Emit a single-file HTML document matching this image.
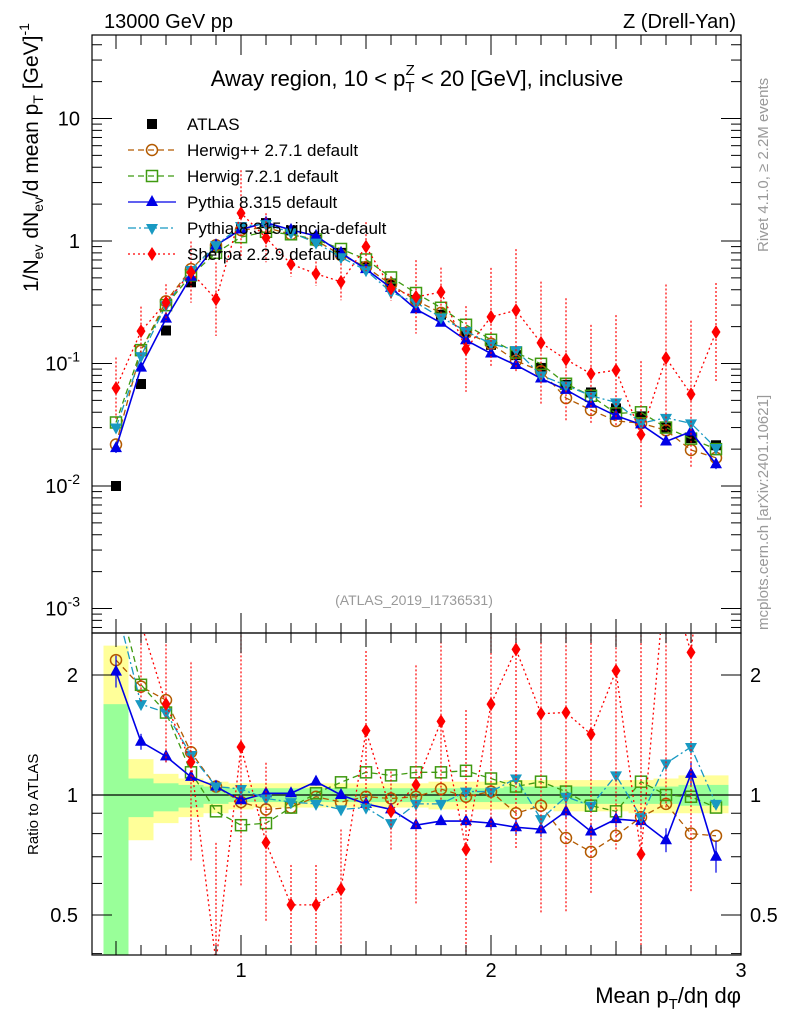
<!DOCTYPE html>
<html><head><meta charset="utf-8">
<style>
html,body{margin:0;padding:0;background:#fff;width:786px;height:1024px;overflow:hidden;}
svg{display:block;font-family:"Liberation Sans",sans-serif;}
</style></head>
<body>
<svg id="chart" width="786" height="1024" viewBox="0 0 786 1024" xmlns="http://www.w3.org/2000/svg">
<defs>
<clipPath id="clipMain"><rect x="92" y="35" width="649" height="598"/></clipPath>
<clipPath id="clipRatio"><rect x="92" y="634" width="649" height="321"/></clipPath>
</defs>
<g id="bands" clip-path="url(#clipRatio)"></g>
<g id="marksMain" clip-path="url(#clipMain)"></g>
<g id="marksRatio" clip-path="url(#clipRatio)"></g>
<g id="axes"></g>
<text x="104" y="28" font-size="20">13000 GeV pp</text>
<text x="736" y="28" font-size="20" text-anchor="end">Z (Drell-Yan)</text>
<text x="417" y="86" font-size="22" text-anchor="middle">Away region, 10 &lt; p<tspan font-size="15" dy="6">T</tspan><tspan font-size="15" dx="-9" dy="-17">Z</tspan><tspan dy="11"> &lt; 20 [GeV], inclusive</tspan></text>
<text x="414" y="605" font-size="14" fill="#999" text-anchor="middle">(ATLAS_2019_I1736531)</text>
<text transform="translate(768,252) rotate(-90)" font-size="15" fill="#999">Rivet 4.1.0, ≥ 2.2M events</text>
<text transform="translate(768,630) rotate(-90)" font-size="15" fill="#999">mcplots.cern.ch [arXiv:2401.10621]</text>
<text transform="translate(38,292) rotate(-90)" font-size="21">1/N<tspan font-size="14" dy="5">ev</tspan><tspan dy="-5"> dN</tspan><tspan font-size="14" dy="5">ev</tspan><tspan dy="-5">/d mean p</tspan><tspan font-size="14" dy="5">T</tspan><tspan dy="-5"> [GeV]</tspan><tspan font-size="14" dy="-9">-1</tspan></text>
<text transform="translate(38,855) rotate(-90)" font-size="15">Ratio to ATLAS</text>
<text x="741" y="1003" font-size="22" text-anchor="end">Mean p<tspan font-size="15" dy="6">T</tspan><tspan dy="-6">/dη dφ</tspan></text>
<g id="legend"></g>
</svg>
<script>
const xVals = [0.5,0.6,0.7,0.8,0.9,1.0,1.1,1.2,1.3,1.4,1.5,1.6,1.7,1.8,1.9,2.0,2.1,2.2,2.3,2.4,2.5,2.6,2.7,2.8,2.9];
const atlasVals = [0.010,0.068,0.186,0.46,0.88,1.28,1.40,1.22,1.02,0.80,0.62,0.45,0.33,0.25,0.18,0.142,0.117,0.092,0.067,0.058,0.043,0.037,0.030,0.0246,0.0215];
const herwigPPRatio = [2.18,1.87,1.73,1.28,1.05,0.96,0.92,0.93,0.99,0.96,0.99,0.98,0.99,1.035,0.99,1.02,0.90,0.94,0.78,0.72,0.79,0.88,0.95,0.80,0.79];
const herwig7Ratio = [3.3,1.89,1.61,1.14,0.91,0.84,0.85,0.93,1.01,1.076,1.14,1.12,1.14,1.14,1.15,1.10,1.05,1.08,1.02,0.94,0.91,1.08,1.00,0.99,0.93];
const pythiaRatio = [2.04,1.36,1.25,1.11,1.05,0.97,1.01,1.01,1.08,1.00,0.95,0.92,0.84,0.86,0.86,0.85,0.83,0.82,0.91,0.81,0.87,0.86,0.77,1.13,0.70];
const vinciaRatio = [3.0,1.69,1.61,1.26,1.05,1.035,0.98,0.96,0.95,0.92,0.93,0.85,0.95,0.95,1.02,1.02,1.10,0.87,0.99,0.94,1.12,0.88,1.20,1.32,0.95];
const sherpaRatio = [6.3,2.7,1.69,1.21,0.38,1.32,0.76,0.53,0.53,0.58,1.45,0.91,1.06,1.53,0.73,1.69,2.32,1.60,1.61,1.42,2.05,0.71,3.7,2.28,8.4];
const sherpaErrLog = [0.25,0.2,0.15,0.25,0.3,0.35,0.2,0.1,0.1,0.15,0.2,0.1,0.3,0.2,0.35,0.4,0.5,0.5,0.5,0.4,0.45,0.6,0.6,0.6,0.4];
const pythiaErrLog = [0.04,0.02,0.015,0.01,0.01,0.01,0.01,0.01,0.01,0.01,0.01,0.01,0.01,0.01,0.015,0.015,0.02,0.02,0.02,0.02,0.02,0.02,0.03,0.03,0.04];
const yellowUp = [2.37,1.23,1.13,1.10,1.08,1.07,1.07,1.07,1.07,1.07,1.07,1.07,1.07,1.08,1.08,1.08,1.09,1.09,1.09,1.09,1.09,1.09,1.10,1.12,1.12];
const yellowDn = [0.3,0.77,0.85,0.88,0.90,0.92,0.93,0.93,0.93,0.93,0.93,0.93,0.93,0.92,0.92,0.92,0.92,0.92,0.91,0.91,0.91,0.90,0.90,0.90,0.90];
const greenUp = [1.69,1.10,1.07,1.06,1.05,1.04,1.04,1.04,1.04,1.04,1.04,1.04,1.04,1.04,1.04,1.04,1.05,1.05,1.05,1.05,1.05,1.05,1.05,1.06,1.06];
const greenDn = [0.3,0.88,0.91,0.93,0.95,0.96,0.96,0.96,0.96,0.96,0.96,0.96,0.96,0.96,0.96,0.96,0.95,0.95,0.95,0.95,0.95,0.95,0.95,0.94,0.94];
const mainTickLabels = ["10^-3","10^-2","10^-1","1","10"];
const ratioTickLabels = ["0.5","1","2"];
const xTickLabels = ["1","2","3"];

const NS="http://www.w3.org/2000/svg";
const X=v=>91+(v-0.4)*250;
const YM=v=>241-122.5*Math.log10(v);
const YR=r=>795-398.6*Math.log10(r);
function mk(tag,attrs,parent){const e=document.createElementNS(NS,tag);for(const k in attrs)e.setAttribute(k,attrs[k]);parent.appendChild(e);return e;}

const bands=document.getElementById('bands');
xVals.forEach((x,i)=>{
  let r=mk('rect',{x:X(x-0.05),y:YR(yellowUp[i]),width:25,height:YR(yellowDn[i])-YR(yellowUp[i]),fill:'#ffff99'},bands);
  
  
  let g=mk('rect',{x:X(x-0.05),y:YR(greenUp[i]),width:25,height:YR(greenDn[i])-YR(greenUp[i]),fill:'#99ff99'},bands);
  
  
});
mk('line',{x1:92,x2:741,y1:YR(1),y2:YR(1),stroke:'#000','stroke-width':1.2},bands);

const series=[
 {name:'herwigpp',ratio:herwigPPRatio,color:'#b35a00',dash:'6,4',marker:'circle'},
 {name:'herwig7',ratio:herwig7Ratio,color:'#3f9a10',dash:'6,4',marker:'square'},
 {name:'pythia',ratio:pythiaRatio,color:'#0000e6',dash:'',marker:'tri',err:pythiaErrLog},
 {name:'vincia',ratio:vinciaRatio,color:'#1899c2',dash:'8,3,2,3',marker:'tridown'},
 {name:'sherpa',ratio:sherpaRatio,color:'#ff0000',dash:'2,3',marker:'diamond',err:sherpaErrLog}
];
function marker(type,cx,cy,color,parent){
  let e;
  if(type==='circle')e=mk('circle',{cx:cx,cy:cy,r:5.5,fill:'none',stroke:color,'stroke-width':1.5},parent);
  else if(type==='square')e=mk('rect',{x:cx-5.5,y:cy-5.5,width:11,height:11,fill:'none',stroke:color,'stroke-width':1.5},parent);
  else if(type==='fsquare')e=mk('rect',{x:cx-5,y:cy-5,width:10,height:10,fill:color},parent);
  else if(type==='tri')e=mk('polygon',{points:`${cx},${cy-7} ${cx-6},${cy+4} ${cx+6},${cy+4}`,fill:color},parent);
  else if(type==='tridown')e=mk('polygon',{points:`${cx},${cy+7} ${cx-6},${cy-4} ${cx+6},${cy-4}`,fill:color},parent);
  else e=mk('polygon',{points:`${cx},${cy-7} ${cx-4.5},${cy} ${cx},${cy+7} ${cx+4.5},${cy}`,fill:color},parent);
  return e;
}
const gm=document.getElementById('marksMain'), gr=document.getElementById('marksRatio');
xVals.forEach((x,i)=>{
  let m=marker('fsquare',X(x),YM(atlasVals[i]),'#000',gm);
  
  
});
series.forEach(s=>{
  [[gm,(i)=>YM(atlasVals[i]*s.ratio[i])],[gr,(i)=>YR(s.ratio[i])]].forEach(([g,Yf],pi)=>{
    const pts=xVals.map((x,i)=>X(x)+','+Yf(i)).join(' ');
    let l=mk('polyline',{points:pts,fill:'none',stroke:s.color,'stroke-width':s.name==='pythia'?1.6:1.3,'stroke-dasharray':s.dash},g);
    
    
    if(s.err){xVals.forEach((x,i)=>{
      const base=pi===0?Math.log10(atlasVals[i]*s.ratio[i]):Math.log10(s.ratio[i]);
      const f=pi===0?(v=>241-122.5*v):(v=>795-398.6*v);
      let b=mk('line',{x1:X(x),x2:X(x),y1:f(base+s.err[i]),y2:f(base-s.err[i]),stroke:s.color,'stroke-width':1.2,'stroke-dasharray':s.name==='sherpa'?'2,2':''},g);
      
      
    });}
    xVals.forEach((x,i)=>{
      let m=marker(s.marker,X(x),Yf(i),s.color,g);
      
      
    });
  });
});

const ax=document.getElementById('axes');
mk('rect',{x:92,y:35,width:649,height:598,fill:'none',stroke:'#000','stroke-width':1.2},ax);
mk('rect',{x:92,y:633,width:649,height:322,fill:'none',stroke:'#000','stroke-width':1.2},ax);
function tick(x1,y1,x2,y2){mk('line',{x1,y1,x2,y2,stroke:'#000','stroke-width':1},ax);}
for(let d=-4;d<=1;d++){for(let k=1;k<=9;k++){const v=k*Math.pow(10,d);const y=YM(v);if(y<35||y>633)continue;const L=k===1?20:10;tick(92,y,92+L,y);tick(741,y,741-L,y);}}
mainTickLabels.forEach((t,i)=>{const y=YM(Math.pow(10,i-3));
  let e;
  if(t.indexOf('^')>0){const p=t.split('^');e=mk('text',{x:80,y:y+7,'font-size':20,'text-anchor':'end'},ax);e.innerHTML=p[0]+'<tspan font-size="14" dy="-9">'+p[1]+'</tspan>';}
  else {e=mk('text',{x:80,y:y+7,'font-size':20,'text-anchor':'end'},ax);e.textContent=t;}
  
  
});
[0.4,0.5,0.6,0.7,0.8,0.9,1,2].forEach(v=>{const y=YR(v);const L=(v===0.5||v===1||v===2)?20:10;tick(92,y,92+L,y);tick(741,y,741-L,y);});
[0.5,1,2].forEach((v,i)=>{
  const e=mk('text',{x:78,y:YR(v)+7,'font-size':20,'text-anchor':'end'},ax);e.textContent=ratioTickLabels[i];
  
  
  const e2=mk('text',{x:750,y:YR(v)+7,'font-size':20},ax);e2.textContent=ratioTickLabels[i];
  
  
});
for(let k=5;k<=29;k++){const v=k/10;const x=X(v);const L=(k%10===0)?20:(k%5===0?14:10);
  tick(x,955,x,955-L);tick(x,633,x,633-L);tick(x,633,x,633+L);tick(x,35,x,35+L);}
xTickLabels.forEach((t,i)=>{const e=mk('text',{x:X(i+1),y:977,'font-size':20,'text-anchor':'middle'},ax);e.textContent=t;
  
  });

const lg=document.getElementById('legend');
const legendItems=[
 {label:'ATLAS',color:'#000',marker:'fsquare',dash:null},
 {label:'Herwig++ 2.7.1 default',color:'#b35a00',marker:'circle',dash:'6,4'},
 {label:'Herwig 7.2.1 default',color:'#3f9a10',marker:'square',dash:'6,4'},
 {label:'Pythia 8.315 default',color:'#0000e6',marker:'tri',dash:''},
 {label:'Pythia 8.315 vincia-default',color:'#1899c2',marker:'tridown',dash:'8,3,2,3'},
 {label:'Sherpa 2.2.9 default',color:'#ff0000',marker:'diamond',dash:'2,3'}
];
legendItems.forEach((it,i)=>{const y=124+i*26;
  const g=mk('g',{},lg);
  
  
  if(it.dash!==null)mk('line',{x1:128,x2:176,y1:y,y2:y,stroke:it.color,'stroke-width':1.3,'stroke-dasharray':it.dash},g);
  marker(it.marker,152,y,it.color,g);
  const t=mk('text',{x:187,y:y+6,'font-size':17},g);t.textContent=it.label;
});
</script>
</body></html>
